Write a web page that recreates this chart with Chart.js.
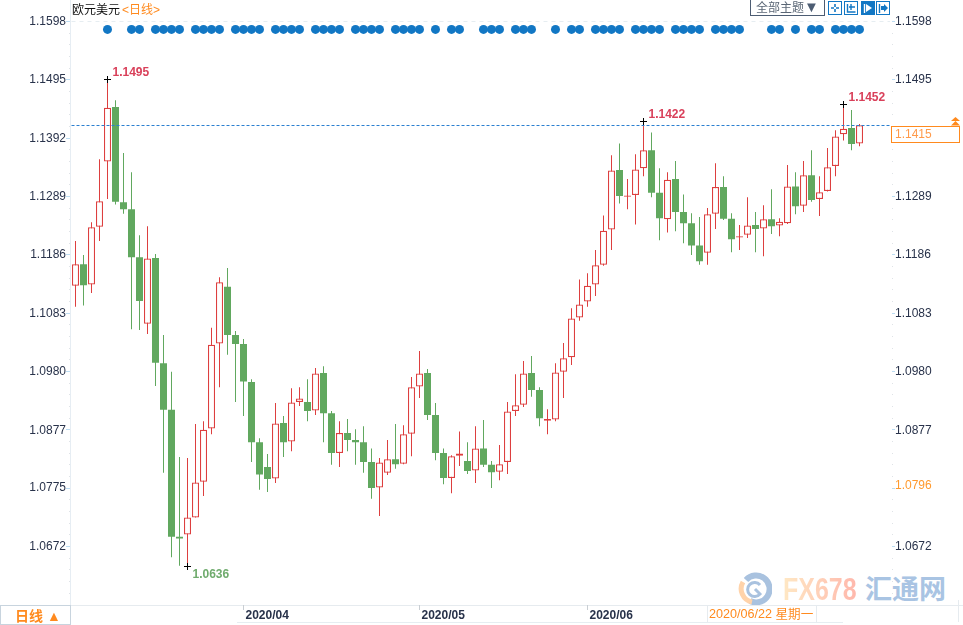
<!DOCTYPE html>
<html>
<head>
<meta charset="utf-8">
<title>欧元美元 日线</title>
<script src="https://cdn.jsdelivr.net/npm/chart.js@4/dist/chart.umd.min.js"></script>
<style>
    html, body { margin: 0; padding: 0; background: #fff; overflow: hidden; }
    #stage { position: relative; width: 963px; height: 625px; font-family: "Liberation Sans", Arial, sans-serif; }
    #stage canvas { position: absolute; left: 0; top: 0; }
    .abs { position: absolute; white-space: nowrap; }
    .cjk { font-family: "Liberation Sans", "Noto Sans CJK SC", sans-serif; }
</style>
</head>
<body>
<div id="stage">
    <!-- watermark sits under the chart -->
    <svg class="abs" style="left:738px;top:572px" width="34" height="34" viewBox="0 0 34 34">
        <path d="M8 8 A13.5 13.5 0 1 1 12 29" fill="none" stroke="#a9c2df" stroke-width="6"/>
        <path d="M5 10 A13.5 13.5 0 0 0 14 30" fill="none" stroke="#ffd3aa" stroke-width="5"/>
        <path d="M22 13 A7 7 0 1 0 22 22 L17 17" fill="none" stroke="#a9c2df" stroke-width="3"/>
    </svg>
    <div class="abs" style="left:783px;top:571px;font:bold 32px 'Liberation Sans';line-height:37px;transform:scaleX(.78);transform-origin:left top;background:linear-gradient(90deg,#ffe8c4,#ffb8ac);-webkit-background-clip:text;background-clip:text;color:transparent">FX678</div>
    <div class="abs" style="left:865px;top:571px;font:bold 27px 'Noto Sans CJK SC';line-height:34px;color:#a9c4e3">汇通网</div>

    <!-- frame lines around the plot -->
    <div class="abs" style="left:70px;top:0;width:1px;height:605px;background:#e6edf3"></div>
    <div class="abs" style="left:0;top:605px;width:963px;height:1px;background:#e6ebef"></div>
    <div class="abs" style="left:237px;top:622px;width:606px;height:1px;background:#e6edf1"></div>
    <div class="abs" style="left:958px;top:600px;width:1px;height:22px;background:#e6ebef"></div>

    <canvas id="klineChart" width="963" height="625"></canvas>

    <!-- title and toolbar -->
    <div class="abs cjk" style="left:72px;top:3px;font-size:12px;line-height:14px;color:#111">欧元美元<span style="color:#ff8a1e;margin-left:2px">&lt;日线&gt;</span></div>
    <div class="abs cjk" style="left:750px;top:-1px;width:73px;height:15px;border:1px solid #4d5d73;font-size:12px;line-height:16px;color:#5a6675;text-align:center">全部主题<span style="color:#4d5d73;font-size:15px;line-height:14px">▼</span></div>
    <svg class="abs" style="left:828px;top:1px" width="63" height="15" viewBox="0 0 63 15">
        <g fill="none" stroke="#1277c4">
            <rect x="0.5" y="0.5" width="13" height="13"/>
            <path d="M7 3v3M7 8v3M3 7h3M8 7h3" stroke-width="1.6"/>
            <rect x="16.5" y="0.5" width="13" height="13"/>
            <path d="M19.5 3v8h8M21 6h6M23 3v6" stroke-width="1.4"/>
            <rect x="33.5" y="0.5" width="13" height="13" fill="#1277c4"/>
            <path d="M36.5 3v9" stroke="#fff" stroke-width="1.4"/>
            <path d="M38 3l6 4-6 4z" fill="#fff" stroke="none"/>
            <rect x="48.5" y="0.5" width="13" height="13"/>
            <path d="M51.5 3v9" stroke-width="1.4"/>
            <path d="M53 5h3V3l4 4-4 4V9h-3z" fill="#1277c4" stroke="none"/>
        </g>
    </svg>

    <!-- right side price markers -->
    <svg class="abs" style="left:951px;top:117px" width="9" height="9" viewBox="0 0 9 9">
        <path d="M4.5 0L9 4H0zM4.5 4L9 8.5H0z" fill="#ff8a1e"/>
    </svg>
    <div class="abs" style="left:895px;top:478px;font-size:12px;line-height:14px;color:#ff9a2e">1.0796</div>

    <!-- bottom strip -->
    <div class="abs cjk" style="left:0;top:605px;width:69px;height:18px;border:1px solid #c8d4de;font-size:14px;font-weight:bold;line-height:20px;color:#ff8a1e;text-indent:14px">日线 <span style="font-size:14px;font-weight:normal">▲</span></div>
    <div class="abs cjk" style="left:707px;top:605px;width:108px;height:17px;border-left:1px solid #e6ebef;border-right:1px solid #e6ebef;font-size:12.6px;line-height:18px;color:#ff8a1e;text-indent:1px">2020/06/22 星期一</div>
</div>

<script>
// Trading days shown on the chart, the last three slots stay empty
const days = [
    '2020/03/03','2020/03/04','2020/03/05','2020/03/06','2020/03/09','2020/03/10','2020/03/11','2020/03/12','2020/03/13','2020/03/16',
    '2020/03/17','2020/03/18','2020/03/19','2020/03/20','2020/03/23','2020/03/24','2020/03/25','2020/03/26','2020/03/27','2020/03/30',
    '2020/03/31','2020/04/01','2020/04/02','2020/04/03','2020/04/06','2020/04/07','2020/04/08','2020/04/09','2020/04/10','2020/04/13',
    '2020/04/14','2020/04/15','2020/04/16','2020/04/17','2020/04/20','2020/04/21','2020/04/22','2020/04/23','2020/04/24','2020/04/27',
    '2020/04/28','2020/04/29','2020/04/30','2020/05/01','2020/05/04','2020/05/05','2020/05/06','2020/05/07','2020/05/08','2020/05/11',
    '2020/05/12','2020/05/13','2020/05/14','2020/05/15','2020/05/18','2020/05/19','2020/05/20','2020/05/21','2020/05/22','2020/05/25',
    '2020/05/26','2020/05/27','2020/05/28','2020/05/29','2020/06/01','2020/06/02','2020/06/03','2020/06/04','2020/06/05','2020/06/08',
    '2020/06/09','2020/06/10','2020/06/11','2020/06/12','2020/06/15','2020/06/16','2020/06/17','2020/06/18','2020/06/19','2020/06/22',
    '2020/06/23','2020/06/24','2020/06/25','2020/06/26','2020/06/29','2020/06/30','2020/07/01','2020/07/02','2020/07/03','2020/07/06',
    '2020/07/07','2020/07/08','2020/07/09','2020/07/10','2020/07/13','2020/07/14','2020/07/15','2020/07/16','2020/07/17','','',''
];

const opens = [
    1.1132,1.1170,1.1134,1.1236,1.1351,1.1447,1.1279,1.1267,1.1182,1.1065,
    1.1181,1.0995,1.0913,1.0689,1.0693,1.0723,1.0786,1.0880,1.1030,1.1130,
    1.1045,1.1029,1.0962,1.0856,1.0812,1.0792,1.0890,1.0857,1.0927,1.0927,
    1.0912,1.0978,1.0907,1.0837,1.0872,1.0860,1.0856,1.0821,1.0776,1.0802,
    1.0826,1.0818,1.0871,1.0954,1.0978,1.0904,1.0837,1.0793,1.0832,1.0823,
    1.0806,1.0845,1.0816,1.0804,1.0821,1.0911,1.0922,1.0978,1.0948,1.0894,
    1.0896,1.0980,1.1006,1.1076,1.1104,1.1134,1.1169,1.1231,1.1336,1.1289,
    1.1292,1.1339,1.1371,1.1296,1.1249,1.1320,1.1262,1.1242,1.1203,1.1190,
    1.1259,1.1306,1.1250,1.1217,1.1222,1.1239,1.1233,1.1249,1.1238,1.1242,
    1.1307,1.1273,1.1327,1.1285,1.1299,1.1343,1.1399,1.1410,1.1383
];
const highs = [
    1.1211,1.1186,1.1244,1.1355,1.1495,1.1459,1.1366,1.1332,1.1221,1.1237,
    1.1188,1.1045,1.0980,1.0830,1.0828,1.0888,1.0893,1.1058,1.1147,1.1163,
    1.1052,1.1038,1.0967,1.0863,1.0835,1.0925,1.0902,1.0951,1.0953,1.0967,
    1.0987,1.0990,1.0911,1.0893,1.0897,1.0879,1.0884,1.0845,1.0828,1.0860,
    1.0888,1.0886,1.0971,1.1017,1.0985,1.0925,1.0845,1.0833,1.0875,1.0856,
    1.0884,1.0895,1.0823,1.0851,1.0927,1.0976,1.0999,1.1008,1.0953,1.0914,
    1.0995,1.1031,1.1092,1.1143,1.1154,1.1195,1.1256,1.1362,1.1383,1.1320,
    1.1364,1.1422,1.1402,1.1339,1.1332,1.1352,1.1293,1.1260,1.1253,1.1269,
    1.1348,1.1325,1.1260,1.1239,1.1288,1.1262,1.1274,1.1302,1.1251,1.1345,
    1.1332,1.1352,1.1371,1.1325,1.1375,1.1406,1.1452,1.1442,1.1417
];
const lows = [
    1.1095,1.1097,1.1119,1.1211,1.1285,1.1275,1.1259,1.1055,1.1054,1.1047,
    1.0955,1.0802,1.0653,1.0638,1.0636,1.0723,1.0761,1.0870,1.0953,1.1010,
    1.0927,1.0902,1.0821,1.0772,1.0768,1.0784,1.0830,1.0840,1.0920,1.0893,
    1.0904,1.0856,1.0816,1.0812,1.0840,1.0816,1.0802,1.0756,1.0726,1.0798,
    1.0809,1.0817,1.0831,1.0934,1.0895,1.0824,1.0782,1.0766,1.0814,1.0800,
    1.0784,1.0812,1.0775,1.0789,1.0800,1.0902,1.0918,1.0936,1.0884,1.0870,
    1.0893,1.0934,1.0992,1.1070,1.1095,1.1114,1.1167,1.1195,1.1277,1.1267,
    1.1240,1.1325,1.1288,1.1212,1.1226,1.1228,1.1207,1.1186,1.1169,1.1169,
    1.1232,1.1248,1.1191,1.1195,1.1216,1.1191,1.1184,1.1223,1.1219,1.1241,
    1.1258,1.1262,1.1280,1.1255,1.1298,1.1325,1.1388,1.1371,1.1378
];
const closes = [
    1.1170,1.1133,1.1235,1.1281,1.1446,1.1280,1.1267,1.1182,1.1105,1.1180,
    1.0996,1.0913,1.0689,1.0686,1.0723,1.0785,1.0878,1.1028,1.1138,1.1045,
    1.1029,1.0963,1.0856,1.0799,1.0791,1.0889,1.0856,1.0926,1.0933,1.0911,
    1.0977,1.0907,1.0837,1.0872,1.0860,1.0856,1.0821,1.0775,1.0820,1.0826,
    1.0817,1.0870,1.0953,1.0977,1.0904,1.0837,1.0793,1.0831,1.0836,1.0805,
    1.0845,1.0816,1.0803,1.0817,1.0910,1.0921,1.0977,1.0948,1.0898,1.0897,
    1.0979,1.1004,1.1074,1.1099,1.1132,1.1168,1.1229,1.1335,1.1290,1.1291,
    1.1337,1.1371,1.1296,1.1251,1.1319,1.1262,1.1242,1.1203,1.1175,1.1258,
    1.1306,1.1250,1.1214,1.1219,1.1238,1.1232,1.1249,1.1237,1.1245,1.1307,
    1.1272,1.1327,1.1283,1.1297,1.1341,1.1395,1.1409,1.1382,1.1415
];

// Days carrying a blue event dot
const eventDays = [
    4,7,8,10,11,12,13,15,16,17,18,20,21,22,23,25,26,27,28,30,31,32,33,35,36,37,38,40,41,42,43,
    45,47,48,51,52,53,55,56,57,60,62,63,65,66,67,68,70,71,72,73,75,76,77,78,80,81,82,83,87,88,90,92,93,95,96,97,98
];
const eventLevel = 1.1584;

const leftTicks = [1.1598, 1.1495, 1.1392, 1.1289, 1.1186, 1.1083, 1.0980, 1.0877, 1.0775, 1.0672];
const rightTicks = [1.1598, 1.1495, 1.1289, 1.1186, 1.1083, 1.0980, 1.0877, 1.0672];
const monthStarts = ['2020/04/01', '2020/05/01', '2020/06/01'];

// Marked highs and lows
const markedDays = [4, 14, 71, 96];
const markedPrices = [1.1495, 1.0636, 1.1422, 1.1452];
const lastPrice = 1.1415;

const RED = '#dd3f3f';
const GREEN = '#61a85f';
const ORANGE = '#ff8a1e';
const SCALE_MIN = 1.05688;
const SCALE_MAX = 1.1598;

const isUp = i => closes[i] >= opens[i];

// Marks and axis furniture that Chart.js has no option for
const klineMarks = {
    id: 'klineMarks',
    afterDraw(chart) {
        const { ctx, chartArea, scales } = chart;
        const yl = scales.y;
        const x = scales.x;
        ctx.save();

        // light dashed line at the top of the price range
        ctx.strokeStyle = '#e6edf1';
        ctx.setLineDash([4, 4]);
        ctx.beginPath();
        ctx.moveTo(chartArea.left, Math.floor(yl.getPixelForValue(leftTicks[0])) + 0.5);
        ctx.lineTo(890, Math.floor(yl.getPixelForValue(leftTicks[0])) + 0.5);
        ctx.stroke();
        ctx.setLineDash([]);

        // major and minor tick marks, four minors between two labels
        const step = (leftTicks[0] - leftTicks[leftTicks.length - 1]) / (leftTicks.length - 1) / 5;
        for (let n = 0; leftTicks[0] - n * step > 1.0585; n++) {
            const py = Math.floor(yl.getPixelForValue(leftTicks[0] - n * step)) + 0.5;
            const major = n % 5 === 0;
            ctx.strokeStyle = major ? '#bcdcf2' : '#dfe3e7';
            ctx.beginPath();
            ctx.moveTo(major ? 66 : 69, py);
            ctx.lineTo(70, py);
            ctx.moveTo(892, py);
            ctx.lineTo(major ? 895 : 893, py);
            ctx.stroke();
        }

        // last price line and box
        const lastY = Math.floor(yl.getPixelForValue(lastPrice)) + 0.5;
        ctx.strokeStyle = '#2a7fd0';
        ctx.setLineDash([3, 2]);
        ctx.beginPath();
        ctx.moveTo(chartArea.left, lastY);
        ctx.lineTo(890, lastY);
        ctx.stroke();
        ctx.setLineDash([]);

        ctx.fillStyle = '#fff';
        ctx.fillRect(891.5, lastY + 1, 68, 16);
        ctx.strokeStyle = ORANGE;
        ctx.strokeRect(891.5, lastY + 1, 68, 16);
        ctx.fillStyle = '#ff9a4a';
        ctx.font = '12px "Liberation Sans"';
        ctx.textAlign = 'left';
        ctx.textBaseline = 'middle';
        ctx.fillText(lastPrice.toFixed(4), 895, lastY + 9.5);

        // crosses and labels on the marked highs and lows
        ctx.font = 'bold 12px "Liberation Sans"';
        markedDays.forEach((day, k) => {
            const px = Math.round(x.getPixelForValue(day) - 0.5) + 0.5;
            const py = Math.floor(yl.getPixelForValue(markedPrices[k])) + 0.5;
            ctx.strokeStyle = '#000';
            ctx.beginPath();
            ctx.moveTo(px - 3.5, py);
            ctx.lineTo(px + 3.5, py);
            ctx.moveTo(px, py - 3.5);
            ctx.lineTo(px, py + 3.5);
            ctx.stroke();

            const isLow = markedPrices[k] < closes[day];
            ctx.fillStyle = isLow ? '#6fab6d' : '#d9405a';
            ctx.fillText(markedPrices[k].toFixed(4), px + 5, py + (isLow ? 8 : -6.5));
        });
        ctx.restore();
    }
};

function priceAxis(position, ticks) {
    return {
        position: position,
        min: SCALE_MIN,
        max: SCALE_MAX,
        border: { display: false },
        grid: { drawOnChartArea: false, drawTicks: false },
        afterBuildTicks(scale) {
            scale.ticks = ticks.map(v => ({ value: v }));
        },
        afterFit(scale) {
            scale.width = position === 'left' ? 71.5 : 75.5;
        },
        ticks: {
            autoSkip: false,
            padding: position === 'left' ? 5.5 : 7.5,
            color: '#28324a',
            font: { family: '"Liberation Sans"', size: 12 },
            callback: v => v.toFixed(4)
        }
    };
}

function bodyDataset(up) {
    return {
        type: 'bar',
        order: 2,
        data: opens.map((o, i) => (isUp(i) === up ? [o, closes[i]] : null)),
        backgroundColor: up ? '#fff' : GREEN,
        borderColor: up ? RED : GREEN,
        borderWidth: up ? 1.25 : 0,
        borderSkipped: false,
        inflateAmount: 0,
        barThickness: 7,
        grouped: false
    };
}

function wickDataset(up) {
    return {
        type: 'bar',
        order: 3,
        data: lows.map((l, i) => (isUp(i) === up ? [l, highs[i]] : null)),
        backgroundColor: up ? RED : GREEN,
        borderWidth: 0,
        inflateAmount: 0,
        barThickness: 1,
        grouped: false
    };
}

new Chart(document.getElementById('klineChart'), {
    type: 'bar',
    data: {
        labels: days,
        datasets: [
            {
                type: 'line',
                order: 1,
                data: days.map((d, i) => (eventDays.includes(i) ? eventLevel : null)),
                showLine: false,
                pointRadius: 4.5,
                pointBackgroundColor: '#1277c4',
                pointBorderWidth: 0
            },
            bodyDataset(true),
            bodyDataset(false),
            wickDataset(true),
            wickDataset(false)
        ]
    },
    options: {
        responsive: false,
        animation: false,
        layout: { padding: { top: 21.5 } },
        plugins: { legend: { display: false }, tooltip: { enabled: false } },
        scales: {
            x: {
                border: { display: false },
                grid: {
                    offset: false,
                    drawOnChartArea: false,
                    tickLength: 5,
                    tickColor: ctx => (ctx.tick && ctx.tick.label ? '#c9ced3' : 'transparent')
                },
                afterFit(scale) {
                    scale.height = 20;
                },
                ticks: {
                    autoSkip: false,
                    maxRotation: 0,
                    align: 'start',
                    labelOffset: 2,
                    padding: -2,
                    color: '#28324a',
                    font: { family: '"Liberation Sans"', size: 12, weight: 'bold' },
                    callback(value) {
                        const day = this.getLabelForValue(value);
                        return monthStarts.includes(day) ? day.slice(0, 7) : '';
                    }
                }
            },
            y: priceAxis('left', leftTicks),
            yRight: priceAxis('right', rightTicks)
        }
    },
    plugins: [klineMarks]
});
</script>
</body>
</html>
